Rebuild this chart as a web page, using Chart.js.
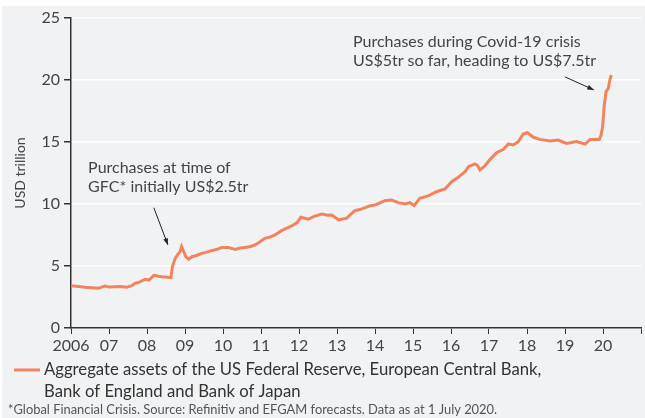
<!DOCTYPE html>
<html>
<head>
<meta charset="utf-8">
<script src="https://cdn.jsdelivr.net/npm/chart.js@4"></script>
<style>
  html, body { margin: 0; padding: 0; background: #fff; }
  #wrap { position: relative; width: 645px; height: 418px; }
</style>
</head>
<body>
<div id="wrap"><canvas id="assetsChart" width="645" height="418"></canvas></div>
<script>
// Aggregate central bank assets, USD trillion
const years = [
  2006.00, 2006.20, 2006.37, 2006.55, 2006.71, 2006.90, 2007.00, 2007.16, 2007.30, 2007.46,
  2007.60, 2007.68, 2007.80, 2007.95, 2008.05, 2008.19, 2008.30, 2008.39, 2008.50, 2008.63,
  2008.67, 2008.74, 2008.82, 2008.87, 2008.91, 2008.98, 2009.02, 2009.10, 2009.18, 2009.30,
  2009.44, 2009.55, 2009.70, 2009.85, 2009.97, 2010.14, 2010.32, 2010.45, 2010.58, 2010.70,
  2010.84, 2010.95, 2011.10, 2011.25, 2011.37, 2011.54, 2011.68, 2011.81, 2011.95, 2012.05,
  2012.15, 2012.24, 2012.40, 2012.60, 2012.75, 2012.86, 2013.05, 2013.15, 2013.25, 2013.34,
  2013.47, 2013.60, 2013.74, 2013.86, 2014.00, 2014.13, 2014.26, 2014.44, 2014.61, 2014.79,
  2014.92, 2015.03, 2015.18, 2015.40, 2015.62, 2015.84, 2016.02, 2016.19, 2016.37, 2016.46,
  2016.63, 2016.70, 2016.76, 2016.89, 2017.03, 2017.20, 2017.38, 2017.51, 2017.64, 2017.77,
  2017.90, 2018.01, 2018.17, 2018.34, 2018.61, 2018.82, 2019.04, 2019.30, 2019.53, 2019.66,
  2019.90, 2019.95, 2019.99, 2020.03, 2020.08, 2020.14, 2020.18, 2020.22
];
const assets = [
  3.41, 3.35, 3.28, 3.25, 3.20, 3.39, 3.30, 3.33, 3.35, 3.28,
  3.42, 3.60, 3.70, 3.93, 3.87, 4.27, 4.18, 4.14, 4.12, 4.06,
  4.95, 5.60, 5.97, 6.15, 6.56, 6.07, 5.75, 5.54, 5.75, 5.85,
  6.02, 6.10, 6.24, 6.35, 6.50, 6.50, 6.34, 6.45, 6.50, 6.55,
  6.69, 6.90, 7.23, 7.35, 7.50, 7.85, 8.05, 8.23, 8.50, 8.93,
  8.85, 8.77, 9.00, 9.19, 9.10, 9.11, 8.71, 8.80, 8.84, 9.11,
  9.46, 9.55, 9.70, 9.85, 9.92, 10.10, 10.27, 10.32, 10.11, 10.00,
  10.11, 9.87, 10.46, 10.65, 10.99, 11.21, 11.80, 12.15, 12.61, 13.01,
  13.23, 13.10, 12.74, 13.06, 13.60, 14.14, 14.41, 14.84, 14.76, 15.02,
  15.65, 15.75, 15.38, 15.21, 15.08, 15.16, 14.89, 15.03, 14.84, 15.21,
  15.21, 15.56, 16.24, 17.85, 19.06, 19.33, 20.00, 20.40
];

const seriesLabel = [
  'Aggregate assets of the US Federal Reserve, European Central Bank,',
  'Bank of England and Bank of Japan'
];
const footnote = '*Global Financial Crisis. Source: Refinitiv and EFGAM forecasts. Data as at 1 July 2020.';

// annotations, anchored in data units (year, USD tr)
const notes = [
  { lines: ['Purchases at time of', 'GFC* initially US$2.5tr'], x: 2006.45, y: 12.9,
    arrow: { from: [2008.18, 9.7], to: [2008.55, 6.7] } },
  { lines: ['Purchases during Covid-19 crisis', 'US$5tr so far, heading to US$7.5tr'], x: 2013.42, y: 23.1,
    arrow: { from: [2019.0, 20.25], to: [2019.76, 19.2] } }
];

const LINE = '#f4825e';
const BG = '#f1f2f4';
const FONT = 'Lato, "Open Sans", sans-serif';

const backdrop = {
  id: 'backdrop',
  beforeDraw(chart) {
    const c = chart.ctx;
    c.save();
    c.fillStyle = BG;
    c.fillRect(2, 6, chart.width - 2, chart.height - 6);
    c.restore();
  }
};

const extras = {
  id: 'extras',
  afterDraw(chart) {
    const c = chart.ctx;
    const xs = chart.scales.x, ys = chart.scales.y;
    c.save();
    // annotations
    c.font = '16px ' + FONT;
    c.fillStyle = '#444';
    c.textBaseline = 'middle';
    c.textAlign = 'left';
    notes.forEach((n) => {
      const px = xs.getPixelForValue(n.x);
      const py = ys.getPixelForValue(n.y);
      n.lines.forEach((t, i) => c.fillText(t, px, py + i * 19));
      const x1 = xs.getPixelForValue(n.arrow.from[0]), y1 = ys.getPixelForValue(n.arrow.from[1]);
      const x2 = xs.getPixelForValue(n.arrow.to[0]), y2 = ys.getPixelForValue(n.arrow.to[1]);
      c.strokeStyle = '#222';
      c.lineWidth = 1;
      c.beginPath();
      c.moveTo(x1, y1);
      c.lineTo(x2, y2);
      c.stroke();
      const a = Math.atan2(y2 - y1, x2 - x1);
      c.fillStyle = '#222';
      c.beginPath();
      c.moveTo(x2, y2);
      c.lineTo(x2 - 7 * Math.cos(a - 0.35), y2 - 7 * Math.sin(a - 0.35));
      c.lineTo(x2 - 7 * Math.cos(a + 0.35), y2 - 7 * Math.sin(a + 0.35));
      c.closePath();
      c.fill();
      c.fillStyle = '#444';
    });
    // legend
    const ly = chart.chartArea.bottom + 42;
    c.strokeStyle = LINE;
    c.lineWidth = 3;
    c.beginPath();
    c.moveTo(14, ly);
    c.lineTo(40, ly);
    c.stroke();
    c.font = '16.7px ' + FONT;
    c.fillStyle = '#333';
    seriesLabel.forEach((t, i) => c.fillText(t, 44, ly + i * 21.5));
    // footnote
    c.font = '12.9px ' + FONT;
    c.fillStyle = '#555';
    c.fillText(footnote, 8, chart.height - 8);
    c.restore();
  }
};

new Chart(document.getElementById('assetsChart'), {
  type: 'line',
  data: {
    datasets: [
      {
        label: seriesLabel.join(' '),
        data: years.map((y, i) => ({ x: y, y: assets[i] })),
        borderColor: LINE,
        borderWidth: 3,
        pointRadius: 0,
        tension: 0,
        fill: false,
      },
    ],
  },
  options: {
    responsive: false,
    animation: false,
    layout: { padding: { top: 18, right: 4, bottom: 0, left: 0 } },
    plugins: {
      legend: { display: false },
      tooltip: { enabled: false },
    },
    scales: {
      x: {
        type: 'linear',
        min: 2006,
        max: 2021,
        afterFit: (s) => { s.height = 90; },
        ticks: {
          stepSize: 1,
          autoSkip: false,
          maxRotation: 0,
          color: '#444',
          font: { family: FONT, size: 16 },
          padding: 2,
          callback: (v) => (v === 2006 ? '2006' : v === 2021 ? '' : String(v).slice(2)),
        },
        grid: { drawOnChartArea: false, drawTicks: true, tickLength: 6, color: '#333', tickColor: '#333' },
        border: { color: '#333', width: 1.5 },
      },
      y: {
        min: 0,
        max: 25,
        afterFit: (s) => { s.width = 71; },
        ticks: {
          stepSize: 5,
          color: '#444',
          font: { family: FONT, size: 16 },
          padding: 4,
        },
        grid: { color: '#ffffff', lineWidth: 1.5, tickLength: 7, tickColor: '#333' },
        border: { color: '#333', width: 1.5 },
        title: { display: true, text: 'USD trillion', color: '#444', font: { family: FONT, size: 14 }, padding: { top: 12, bottom: 0 } },
      },
    },
  },
  plugins: [backdrop, extras],
});
</script>
</body>
</html>
